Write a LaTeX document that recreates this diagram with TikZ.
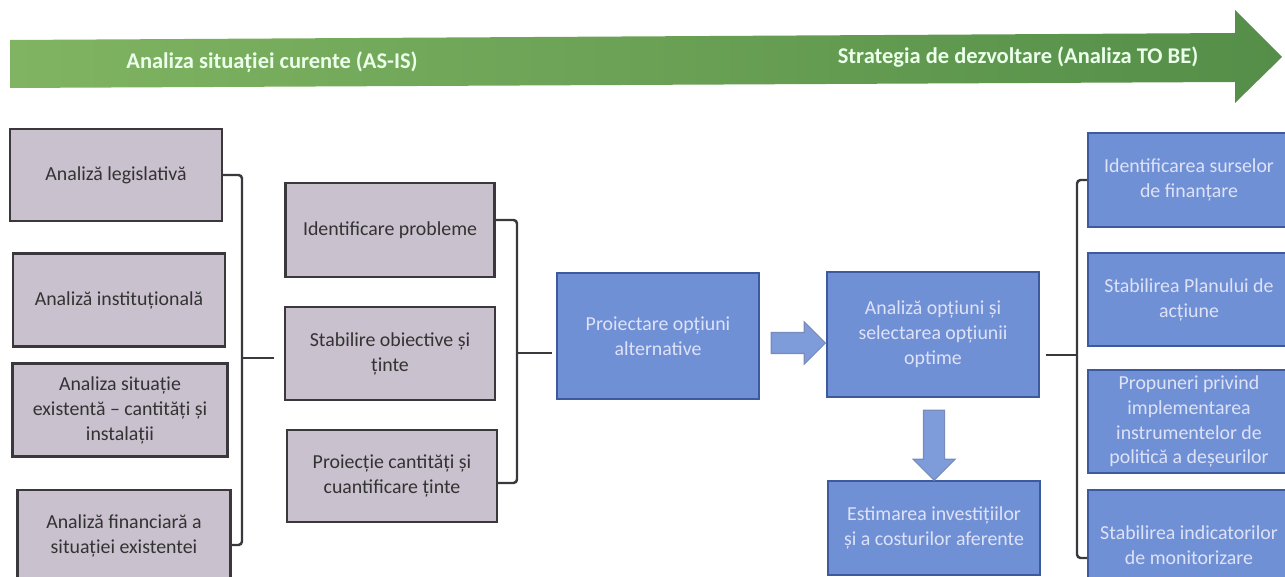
\documentclass[tikz,border=0pt]{standalone}
\usepackage{fontspec}
\setmainfont{Carlito}
\usetikzlibrary{shapes.arrows}

\definecolor{boxgray}{RGB}{201,193,206}
\definecolor{edgegray}{RGB}{58,56,60}
\definecolor{boxblue}{RGB}{112,144,214}
\definecolor{edgeblue}{RGB}{62,90,158}
\definecolor{textblue}{RGB}{222,226,246}
\definecolor{arrowL}{RGB}{128,180,98}
\definecolor{arrowM}{RGB}{64,120,56}
\definecolor{arrowR}{RGB}{84,142,72}

\begin{document}
\begin{tikzpicture}[x=0.02cm, y=-0.02cm,
    graybox/.style={draw=edgegray, line width=1.3pt, fill=boxgray, text=black!80, inner sep=0pt,
                    minimum width=4.24cm, align=center, font=\fontsize{11.3}{14.2}\selectfont},
    bluebox/.style={draw=edgeblue, line width=1.1pt, fill=boxblue, text=textblue, inner sep=0pt,
                    minimum width=4.24cm, align=center, font=\fontsize{11.3}{14.2}\selectfont},
    blockarrow/.style={single arrow, draw=edgeblue!70, line width=0.6pt, fill=boxblue!90!white,
                       inner xsep=0pt, inner ysep=0.2cm, single arrow head extend=0.21cm,
                       single arrow head indent=0pt},
    bracket/.style={draw=edgegray, line width=1.4pt, rounded corners=2pt},
    arrowtext/.style={text=green!8!white, font=\fontsize{12.8}{15}\selectfont\bfseries}]
    \useasboundingbox (0,0) rectangle (1285,577);
    \shade[left color=arrowL, middle color=arrowM, right color=arrowR]
        (10,40) -- (1235,33) -- (1235,10) -- (1282,57) -- (1235,103) -- (1235,82) -- (10,88) -- cycle;
    \node[arrowtext] (asis) at (272,62) {Analiza situației curente (AS-IS)};
    \node[arrowtext] (tobe) at (1018,57) {Strategia de dezvoltare (Analiza TO BE)};

    \node[graybox, minimum height=1.84cm] (leg)  at (116,175) {Analiză legislativă};
    \node[graybox, minimum height=1.86cm] (inst) at (119,300) {Analiză instituțională};
    \node[graybox, minimum height=1.86cm, minimum width=4.3cm] (sit) at (120,410) {Analiza situație\\existentă – cantități și\\instalații};
    \node[graybox, minimum height=1.84cm, minimum width=4.26cm] (fin) at (124,536) {Analiză financiară a\\situației existentei};

    \node[graybox, minimum height=1.88cm, minimum width=4.18cm] (prob) at (390,230) {Identificare probleme};
    \node[graybox, minimum height=1.86cm, minimum width=4.2cm] (obj)  at (390,353.5) {Stabilire obiective și\\ținte};
    \node[graybox, minimum height=1.84cm, minimum width=4.2cm] (proi) at (392,476) {Proiecție cantități și\\cuantificare ținte};

    \node[bluebox, minimum height=2.52cm, minimum width=4.04cm] (opt)  at (658,336) {Proiectare opțiuni\\alternative};
    \node[bluebox, minimum height=2.5cm] (anal) at (933,334.5) {Analiză opțiuni și\\selectarea opțiunii\\optime};
    \node[bluebox, minimum height=1.88cm] (est)  at (934,528) {Estimarea investițiilor\\și a costurilor aferente};

    \node[bluebox, minimum height=1.88cm, minimum width=4.04cm] (surse) at (1189,180) {Identificarea surselor\\de finanțare};
    \node[bluebox, minimum height=1.86cm, minimum width=4.04cm] (plan)  at (1189,299.5) {Stabilirea Planului de\\acțiune};
    \node[bluebox, minimum height=2.06cm, minimum width=4.04cm] (prop)  at (1189,421.5) {Propuneri privind\\implementarea\\instrumentelor de\\politică a deșeurilor};
    \node[bluebox, minimum height=2.2cm, minimum width=4.04cm] (ind)   at (1189,545) {Stabilirea indicatorilor\\de monitorizare};

    \node[blockarrow, minimum height=1.08cm] (toanal) at (793,343) {};
    \node[blockarrow, minimum height=1.4cm, rotate=-90] (toest) at (934,440) {};

    \coordinate (jl) at (242,358);
    \coordinate (jm) at (517,353);
    \coordinate (jr) at (1077,355);
    \draw[bracket] (leg.east) -| (jl) |- ([yshift=-0.18cm]fin.east);
    \draw[bracket, shorten >=0.2cm] (jl) -- (jl -| obj.west);
    \draw[bracket] ([yshift=0.2cm]prob.east) -| (jm) |- ([yshift=-0.14cm]proi.east);
    \draw[bracket, shorten >=0.08cm] (jm) -- (jm -| opt.west);
    \draw[bracket] (surse.west) -| (jr) |- ([yshift=-0.26cm]ind.west);
    \draw[bracket, shorten <=0.12cm] (anal.east |- jr) -- (jr);
\end{tikzpicture}
\end{document}
